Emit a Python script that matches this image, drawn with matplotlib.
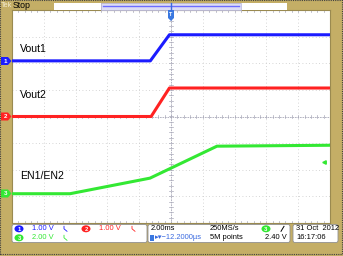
import numpy as np
import matplotlib.pyplot as plt
from matplotlib.patches import Rectangle, Polygon, FancyBboxPatch, Ellipse

W, H = 343, 256
TAN = '#c4ae66'
BLUE = '#1c1cff'
RED = '#ff2222'
GREEN = '#33e833'

# scope settings: 2.00 ms/div, volts/div and ground position (div from centre)
CH1_SCALE, CH1_POS = 1.00, 2.09
CH2_SCALE, CH2_POS = 1.00, 0.0
CH3_SCALE, CH3_POS = 2.00, -2.90
TRIG_LEVEL = 2.40

# traces (time in ms, volts)
t_vout1 = [-10.0, -1.30, -0.10, 10.0]
v_vout1 = [0.0, 0.0, 0.98, 0.98]
t_vout2 = [-10.0, -1.25, -0.10, 10.0]
v_vout2 = [0.0, 0.0, 1.07, 1.07]
t_en = [-10.0, -6.35, -1.32, 2.89, 10.0]
v_en = [0.0, 0.0, 1.17, 3.57, 3.64]

labels = ['Vout1', 'Vout2', 'EN1/EN2']

plt.rcParams['font.family'] = ['Liberation Sans', 'DejaVu Sans']

fig = plt.figure(figsize=(W / 100, H / 100), dpi=100, facecolor=TAN)

# main screen
ax = fig.add_axes([12 / W, 33 / H, 318 / W, 213 / H])
ax.set_facecolor('white')
ax.set_xlim(-10, 10)
ax.set_ylim(-4, 4)
ax.set_xticks([])
ax.set_yticks([])
for s in ax.spines.values():
    s.set_color('#9a8a50')
    s.set_linewidth(0.8)

# graticule
for x in np.arange(-8, 9, 2):
    if x != 0:
        ax.axvline(x, color='#c8c8c8', lw=0.6, ls=(0, (1, 3)), zorder=1)
for y in range(-3, 4):
    if y != 0:
        ax.axhline(y, color='#c8c8c8', lw=0.6, ls=(0, (1, 3)), zorder=1)
ax.axhline(0, color='#a8a8b8', lw=0.6, ls=(0, (2, 1)), zorder=1)
ax.axvline(0, color='#a8a8b8', lw=0.6, ls=(0, (2, 1)), zorder=1)
for x in np.arange(-10, 10.01, 0.4):
    ax.plot([x, x], [-0.07, 0.07], color='#a8a8b8', lw=0.5, zorder=1)
    ax.plot([x, x], [3.93, 4.0], color='#a8a8b8', lw=0.5, zorder=1)
    ax.plot([x, x], [-4.0, -3.93], color='#a8a8b8', lw=0.5, zorder=1)
for y in np.arange(-4, 4.01, 0.2):
    ax.plot([-0.1, 0.1], [y, y], color='#a8a8b8', lw=0.5, zorder=1)

# traces
ax.plot(t_vout1, np.array(v_vout1) / CH1_SCALE + CH1_POS, color=BLUE, lw=2.2, zorder=3)
ax.plot(t_vout2, np.array(v_vout2) / CH2_SCALE + CH2_POS, color=RED, lw=2.2, zorder=3)
ax.plot(t_en, np.array(v_en) / CH3_SCALE + CH3_POS, color=GREEN, lw=2.2, zorder=3)

ax.text(-9.5, 2.55, labels[0], fontsize=7.6, va='center', ha='left')
ax.text(-9.5, 0.82, labels[1], fontsize=7.6, va='center', ha='left')
ax.text(-9.5, -2.24, labels[2], fontsize=7.6, va='center', ha='left')

# trigger level marker (right side)
ax.plot([9.6], [TRIG_LEVEL / CH3_SCALE + CH3_POS], marker='<', ms=2.5,
        color=GREEN, clip_on=False, zorder=4)

# overlay in pixel coordinates for the scope furniture
ov = fig.add_axes([0, 0, 1, 1], zorder=5)
ov.set_xlim(0, W)
ov.set_ylim(H, 0)
ov.axis('off')
ov.patch.set_alpha(0)

# top bar
ov.text(1, 5.5, 'Tek', color='#f4ecd0', fontsize=5.2, va='center', ha='left')
ov.text(12.5, 5.5, 'Stop', color='black', fontsize=6.3, va='center', ha='left')
ov.add_patch(Rectangle((54, 3), 47, 6.5, fc='white', ec='none'))
ov.add_patch(Rectangle((241, 3), 46, 6.5, fc='white', ec='none'))
ov.add_patch(Rectangle((101, 3), 140, 6.5, fc='#dcdcf6', ec='#b8b8e0', lw=0.5))
ov.plot([103, 239], [5.8, 5.8], color='#6c6cff', lw=1.0)
ov.plot([171, 171], [3, 9.5], color='#3a6ae0', lw=1.0)
ov.add_patch(Polygon([[168, 10], [174, 10], [174, 18], [171, 21], [168, 18]],
                     closed=True, fc='#3a78e0', ec='none'))
ov.text(171, 14.5, 'T', color='white', fontsize=4, ha='center', va='center', weight='bold')

# channel ground markers on the left
def ch_marker(y, color, num):
    ov.add_patch(Polygon([[1, y - 4], [8, y - 4], [11.5, y], [8, y + 4], [1, y + 4]],
                         closed=True, fc=color, ec='none'))
    ov.text(5.5, y + 0.3, num, color='white', fontsize=4.5, ha='center', va='center',
            weight='bold')

ch_marker(61, BLUE, '1')
ch_marker(116.5, RED, '2')
ch_marker(193.5, GREEN, '3')

# bottom panel boxes
for x0, x1 in [(12, 147), (148, 290), (293, 338)]:
    ov.add_patch(FancyBboxPatch((x0, 224.5), x1 - x0, 18, boxstyle='round,pad=0,rounding_size=2',
                                fc='white', ec='#909090', lw=0.6))

fs = 5.4
r1, r2 = 228.8, 237.8

def ch_badge(x, y, color, num):
    ov.add_patch(Ellipse((x, y), 9, 7, fc=color, ec='none'))
    ov.text(x, y + 0.3, num, color='white', fontsize=4.2, ha='center', va='center', weight='bold')

def bw_icon(x, y, color):
    ov.plot([x, x, x + 3], [y - 2.5, y, y + 2.5], color=color, lw=0.6)

ch_badge(19, r1, BLUE, '1')
ov.text(32, r1, '1.00 V', color=BLUE, fontsize=fs, va='center')
bw_icon(64, r1, BLUE)
ch_badge(86, r1, RED, '2')
ov.text(99, r1, '1.00 V', color=RED, fontsize=fs, va='center')
bw_icon(132, r1, RED)
ch_badge(19, r2, GREEN, '3')
ov.text(32, r2, '2.00 V', color=GREEN, fontsize=fs, va='center')
bw_icon(64, r2, GREEN)

ov.text(151, r1, '2.00ms', color='black', fontsize=fs, va='center')
ov.text(210, r1, '250MS/s', color='black', fontsize=fs, va='center')
ch_badge(266, r1, GREEN, '3')
ov.plot([281, 284], [r1 + 2.5, r1 - 2.5], color='black', lw=0.7)
ov.add_patch(Rectangle((150, r2 - 3), 4, 6, fc='#3a78e0', ec='none'))
ov.text(155, r2, '\u25b8\u25be\u221212.2000\u00b5s', color='#3a6ae0', fontsize=fs, va='center')
ov.text(210, r2, '5M points', color='black', fontsize=fs, va='center')
ov.text(287, r2, '2.40 V', color='black', fontsize=fs, va='center', ha='right')

ov.text(296, r1, '31 Oct  2012', color='black', fontsize=fs, va='center')
ov.text(296, r2, '16:17:06', color='black', fontsize=fs, va='center')

# outer frame edge
ov.plot([0, W - 1, W - 1, 0, 0], [H - 2, H - 2, 0, 0, H - 2], color='#404040', lw=0.8,
        ls=(0, (1, 1)))

fig.savefig('out.png', dpi=100, facecolor=TAN)
